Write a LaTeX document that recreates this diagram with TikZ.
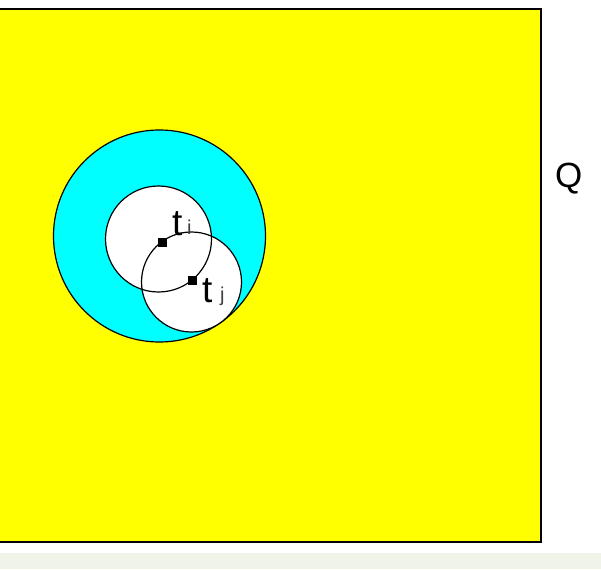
\documentclass[tikz,border=0pt]{standalone}
\usepackage{fontspec}
\setmainfont{Liberation Sans}
\usepackage{tikz}
\usetikzlibrary{positioning}

\definecolor{pagestrip}{RGB}{240,243,232}
\definecolor{qyellow}{RGB}{255,255,0}
\definecolor{ringcyan}{RGB}{0,255,255}

\begin{document}
\begin{tikzpicture}[
  x=1pt, y=-1pt,
  disc/.style={circle, draw=black, line width=1.2pt, inner sep=0pt},
  pin/.style={rectangle, fill=black, inner sep=0pt, minimum size=9pt},
  tlab/.style={anchor=base west, inner sep=0pt, font=\fontsize{37}{40}\selectfont},
  sublab/.style={anchor=base west, inner sep=0pt, text=black!75, font=\fontsize{20}{24}\selectfont},
]
  \useasboundingbox (0,0) rectangle (601,569);
  \fill[pagestrip] (0,553) rectangle (601,569);

  % region Q
  \node[draw=black, line width=2pt, fill=qyellow, inner sep=0pt,
        minimum width=552pt, minimum height=533pt] (region) at (265,275.5) {};
  \node[anchor=base west, inner sep=0pt, font=\fontsize{35}{40}\selectfont] (qlab) at (555,188) {Q};

  % outer disc
  \node[disc, fill=ringcyan, minimum size=212pt] (outer) at (159.5,236) {};

  % discs round t_i and t_j
  \node[disc, fill=white, draw=none, minimum size=100pt] (dj) at (191.5,282) {};
  \node[disc, fill=white, draw=none, minimum size=106pt] (di) at (158.5,239) {};
  \node[disc, minimum size=100pt] at (dj) {};
  \node[disc, minimum size=106pt] at (di) {};

  % points
  \node[pin] (ti) at (162,242) {};
  \node[pin] (tj) at (192,280) {};
  \node[tlab] (tilab) at (172,235) {t};
  \node[sublab] (tisub) at (187,234) {i};
  \node[tlab] (tjlab) at (202,302) {t};
  \node[sublab] (tjsub) at (220,301) {j};
\end{tikzpicture}
\end{document}
